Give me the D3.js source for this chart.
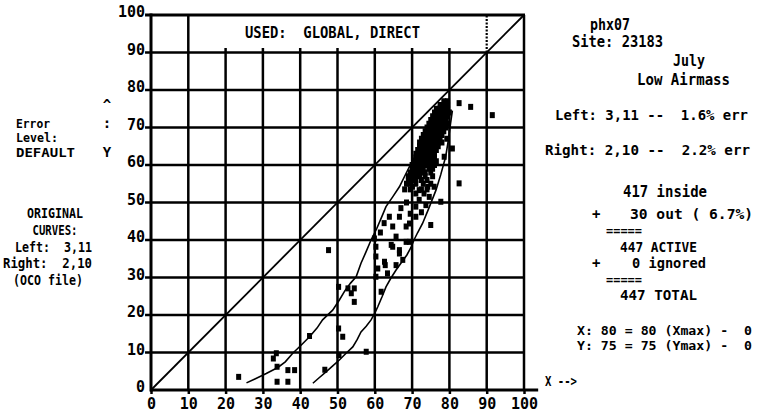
<!DOCTYPE html>
<html>
<head>
<meta charset="utf-8">
<script src="https://cdn.jsdelivr.net/npm/d3@7"></script>
<style>
  html, body { margin: 0; padding: 0; background: #fff; }
  svg { display: block; }
  text { font-family: "DejaVu Sans Mono", "Liberation Mono", monospace; font-weight: bold; font-size: 14px; fill: #000; white-space: pre; }
</style>
</head>
<body>
<svg id="chart" width="760" height="412"></svg>
<script>
// Axis ticks
const xTicks = [0, 10, 20, 30, 40, 50, 60, 70, 80, 90, 100];
const yTicks = [0, 10, 20, 30, 40, 50, 60, 70, 80, 90, 100];

// Fitted error curves (x, y)
const leftCurve = [[25.6,1.9],[28,3],[30.9,4.4],[34,6],[36,7.5],[38,9.8],[40.3,12],[42.5,14.2],[44.5,16.5],[46,18.7],[48.7,21.3],[50.5,24],[52,26.5],[53.5,28.5],[55,30.2],[56.3,33.8],[57.5,36.5],[59,40],[60.5,43],[62,46.5],[63,48.9],[64.8,51.5],[66.6,54.2],[68,57],[69.5,60],[70.8,62.5],[72,66],[73.5,69],[75.3,72.6],[77.2,75.3],[79,76.5]];
const rightCurve = [[43.4,1.8],[45,3.2],[47,4.9],[48.8,6.5],[50.5,8],[52.3,9.8],[54.1,11.5],[55.3,13.5],[56.3,15.5],[57.7,17],[59,18.7],[60,20.5],[60.8,22.2],[62,25],[63,27.5],[64.3,29.8],[65.7,32],[67,33.8],[68.6,36],[69.7,38],[70.5,40],[71.5,42],[72.8,44.4],[74.5,48.5],[76.4,53.3],[77.7,57.5],[79,62.2],[79.7,66.5],[80.3,71],[80.8,74.5]];

// Observations: low-value readings
const lowPoints = [[23.5,3.5],[32.8,8.4],[33.6,9.8],[33.8,6.2],[36.7,5.3],[38.5,5.3],[33.8,2.2],[36.7,2.2],[42.5,14.4],[46.6,5.4],[50.4,9.3],[57.7,10.2],[50.3,16.4],[51.4,14.2],[50.3,27.5],[52.8,27.1],[54.5,27.1],[53.7,25.8],[54.5,23.5],[47.6,37.3]];
// Observations: mid band
const bandPoints = [[60.3,38.2],[60.3,35.6],[60.8,32.4],[60.3,30.2],[61.7,26.2],[64.8,38.2],[66.6,37.3],[62.6,34.2],[62.8,33.3],[65.7,33.3],[63.4,31.1],[67.5,34.7],[68.4,39.5],[63.9,46.2],[66.6,46.2],[64.8,43.6],[68.4,43.6],[65.7,40.9],[64.4,38.7],[66.6,36.4],[69.3,39.5],[59.9,40.4],[61.5,42],[62.5,44.5],[70.1,54.2],[71,52.4],[73.2,52.4],[71,48.9],[72.5,47.4],[75,44],[77.7,50.2],[69.3,44.4],[71,46.2],[71.9,50.7],[73.7,49.3],[74.6,51.5],[75.9,54.2],[71.9,53.3],[74.2,54.2],[68.5,50],[67,48.5],[69.5,47]];
// Observations: dense high-value cluster
const clusterPoints = [
  [78.5,77],[79.5,77],
  [77.5,76],[78.5,76],[79.5,76],
  [76.5,75],[77.5,75],[78.5,75],[79.5,75],
  [76,74],[77,74],[78,74],[79,74],[80,74],
  [75.5,73],[76.5,73],[77.5,73],[78.5,73],[79.5,73],
  [75,72],[76,72],[77,72],[78,72],[79,72],
  [74.5,71],[75.5,71],[76.5,71],[77.5,71],[78.5,71],[79.5,71],
  [74,70],[75,70],[76,70],[77,70],[78,70],[79,70],
  [73.5,69],[74.5,69],[75.5,69],[76.5,69],[77.5,69],[78.5,69],
  [73,68],[74,68],[75,68],[76,68],[77,68],[78,68],
  [72.5,67],[73.5,67],[74.5,67],[75.5,67],[76.5,67],[77.5,67],
  [72,66],[73,66],[74,66],[75,66],[76,66],[77,66],[78,66],
  [72,65],[73,65],[74,65],[75,65],[76,65],[77,65],
  [71.5,64],[72.5,64],[73.5,64],[74.5,64],[75.5,64],[76.5,64],
  [71,63],[72,63],[73,63],[74,63],[75,63],[76,63],
  [71,62],[72,62],[73,62],[74,62],[75,62],[76,62],
  [70.5,61],[71.5,61],[72.5,61],[73.5,61],[74.5,61],[75.5,61],[76.5,61],
  [70,60],[71,60],[72,60],[73,60],[74,60],[75,60],[76,60],
  [70,59],[71,59],[72,59],[73,59],[74.5,59],[75.5,59],
  [69.5,58],[70.5,58],[71.5,58],[72.5,58],[73.5,58],[75,58],
  [69,57],[70,57],[71,57],[72,57],[73.5,57],[75.5,57],
  [69,56],[70,56],[71,56],[72.5,56],[74,56],
  [68.5,55],[69.5,55],[71,55],[73,55],[75,55],
  [68,53.5],[69.5,53.5],[72.5,53.5],[74,53.5]
];
// Observations: isolated high readings
const outlierPoints = [[82.6,55.1],[78.6,62.2],[80.8,64.4],[79.3,67],[82.6,76.5],[85.7,75.5],[91.5,73.3]];

const svg = d3.select("#chart");
const x = d3.scaleLinear().domain([0, 100]).range([151, 524]);
const y = d3.scaleLinear().domain([0, 100]).range([390, 15]);

const grid = svg.append("g").attr("stroke", "#000").attr("fill", "none");

// Horizontal grid lines (start a little left of the axis, like ticks)
grid.selectAll("line.h").data(yTicks.filter(d => d > 0 && d < 100)).join("line")
  .attr("class", "h")
  .attr("x1", x(-1.6)).attr("x2", x(100))
  .attr("y1", d => y(d)).attr("y2", d => y(d))
  .attr("stroke-width", 2.5);

// Top border
grid.append("line").attr("x1", x(-1.6)).attr("x2", x(100) + 1)
  .attr("y1", y(100)).attr("y2", y(100)).attr("stroke-width", 3);

// Vertical grid lines: the title box spans 10..90 above the 90 line
grid.selectAll("line.v").data(xTicks.filter(d => d > 0)).join("line")
  .attr("class", "v")
  .attr("x1", d => x(d)).attr("x2", d => x(d))
  .attr("y1", y(0))
  .attr("y2", d => (d === 10 || d === 100) ? y(100) : (d === 90 ? y(90) : y(91.2)))
  .attr("stroke-width", 2.5);
grid.append("line").attr("x1", x(90)).attr("x2", x(90))
  .attr("y1", y(90)).attr("y2", y(100))
  .attr("stroke-width", 2.2).attr("stroke-dasharray", "2,1.5");

// One-to-one line
svg.append("line").attr("x1", x(0)).attr("y1", y(0)).attr("x2", x(100)).attr("y2", y(100))
  .attr("stroke", "#000").attr("stroke-width", 1.8);

// Error curves
const line = d3.line().x(d => x(d[0])).y(d => y(d[1]));
svg.selectAll("path.curve").data([leftCurve, rightCurve]).join("path")
  .attr("class", "curve").attr("d", line)
  .attr("fill", "none").attr("stroke", "#000").attr("stroke-width", 1.6);

// Observation marks
const allPoints = [].concat(lowPoints, bandPoints, clusterPoints, outlierPoints);
svg.append("g").selectAll("rect").data(allPoints).join("rect")
  .attr("x", d => x(d[0]) - 2.5).attr("y", d => y(d[1]) - 3)
  .attr("width", 5).attr("height", 6)
  .attr("fill", "#000");

// Axes
const xAxis = d3.axisBottom(x).tickValues(xTicks).tickSize(4).tickPadding(4).tickFormat(d3.format("d"));
const gx = svg.append("g").attr("transform", `translate(0,${y(0)})`).call(xAxis);
gx.select(".domain").remove();
gx.selectAll(".tick line").attr("stroke-width", 2.5);
gx.append("line").attr("x1", x(0) - 1).attr("x2", x(103.8)).attr("y1", 0).attr("y2", 0)
  .attr("stroke", "#000").attr("stroke-width", 3);

const yAxis = d3.axisLeft(y).tickValues(yTicks).tickSize(0).tickPadding(6).tickFormat(d3.format("d"));
const gy = svg.append("g").attr("transform", `translate(${x(0)},0)`).call(yAxis);
gy.select(".domain").remove();
gy.selectAll(".tick text").attr("dy", "0.1em");
gy.append("line").attr("x1", 0).attr("x2", 0).attr("y1", y(0) + 1.5).attr("y2", y(100) - 1.5)
  .attr("stroke", "#000").attr("stroke-width", 3);

svg.selectAll(".tick text").style("font-family", "\"DejaVu Sans Mono\", monospace")
  .style("font-weight", "bold").style("font-size", "15px").attr("fill", "#000");

// Labels: text, x, baseline, anchor, drawn width, font size
const labels = [
  ["USED:  GLOBAL, DIRECT", 245, 38, "start", 175, 15],
  ["phx07", 590, 30, "start", 40, 15],
  ["Site: 23183", 572, 47, "start", 91, 15],
  ["July", 673, 66, "start", 32, 15],
  ["Low Airmass", 637, 85, "start", 93, 15],
  ["Left: 3,11 --  1.6% err", 555, 120, "start", 193, 14],
  ["Right: 2,10 --  2.2% err", 545, 155, "start", 205, 14],
  ["417 inside", 623, 197, "start", 84, 15],
  ["+", 592, 219, "start", 0, 14],
  ["30 out ( 6.7%)", 630, 219, "start", 123, 14],
  ["=====", 606, 235, "start", 36, 13],
  ["447 ACTIVE", 620, 252, "start", 77, 14],
  ["+", 592, 268, "start", 0, 14],
  ["0 ignored", 632, 268, "start", 74, 13.5],
  ["=====", 606, 284, "start", 36, 13],
  ["447 TOTAL", 620, 300, "start", 77, 14],
  ["X: 80 = 80 (Xmax) -  0", 577, 335, "start", 175, 13],
  ["Y: 75 = 75 (Ymax) -  0", 577, 350, "start", 175, 13],
  ["X -->", 545, 386, "start", 32, 14],
  ["Error", 16, 128, "start", 34, 13],
  ["Level:", 16, 142, "start", 42, 13],
  ["DEFAULT", 16, 157, "start", 59, 13],
  ["^", 107, 110, "middle", 0, 14],
  [":", 107, 128, "middle", 0, 14],
  ["Y", 107, 157, "middle", 0, 14],
  ["ORIGINAL", 55, 218, "middle", 56, 14],
  ["CURVES:", 55, 235, "middle", 45, 14],
  ["Left:  3,11", 92, 252, "end", 77, 14],
  ["Right:  2,10", 92, 268, "end", 89, 14],
  ["(OCO file)", 48, 285, "middle", 70, 14]
];
const txt = svg.append("g").selectAll("text").data(labels).join("text")
  .attr("x", d => d[1]).attr("y", d => d[2])
  .attr("text-anchor", d => d[3])
  .style("font-size", d => d[5] + "px")
  .text(d => d[0]);
txt.filter(d => d[4] > 0)
  .attr("textLength", d => d[4])
  .attr("lengthAdjust", "spacingAndGlyphs");
</script>
</body>
</html>
